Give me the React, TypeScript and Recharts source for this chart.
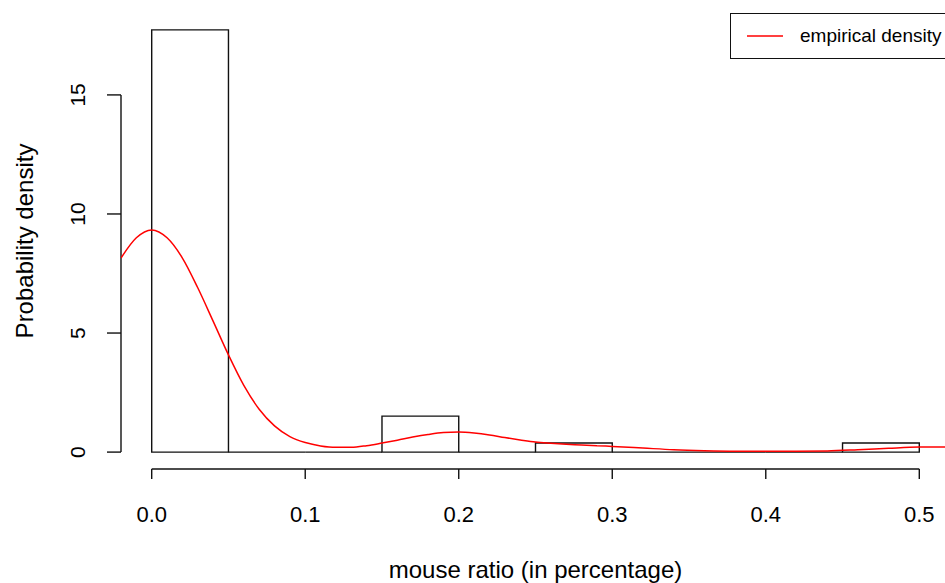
import {
	ComposedChart,
	Line,
	XAxis,
	YAxis,
	ReferenceArea,
	ReferenceLine,
	Legend,
	Label,
} from "recharts";

// histogram bins (width 0.05) and their density heights
const binStarts = [0, 0.05, 0.1, 0.15, 0.2, 0.25, 0.3, 0.35, 0.4, 0.45];
const binWidth = 0.05;
const binHeights = [17.73, 0, 0, 1.51, 0, 0.38, 0, 0, 0, 0.38];

// empirical density curve
const densityX = [
	-0.02, -0.01, 0, 0.01, 0.02, 0.03, 0.04, 0.05, 0.06, 0.07, 0.08, 0.09, 0.1,
	0.11, 0.12, 0.13, 0.14, 0.15, 0.16, 0.17, 0.18, 0.19, 0.2, 0.21, 0.22, 0.23,
	0.24, 0.25, 0.26, 0.27, 0.28, 0.29, 0.3, 0.32, 0.34, 0.36, 0.38, 0.4, 0.42,
	0.44, 0.46, 0.48, 0.5, 0.52,
];
const densityY = [
	8.15, 9.0, 9.33, 9.0, 8.15, 6.9, 5.5, 4.08, 2.8, 1.8, 1.1, 0.65, 0.4, 0.26,
	0.2, 0.2, 0.27, 0.38, 0.5, 0.63, 0.74, 0.82, 0.84, 0.8, 0.72, 0.61, 0.51,
	0.42, 0.37, 0.33, 0.3, 0.27, 0.24, 0.17, 0.1, 0.06, 0.04, 0.04, 0.04, 0.05,
	0.1, 0.16, 0.21, 0.22,
];

const xTicks = [0, 0.1, 0.2, 0.3, 0.4, 0.5];
const xTickLabels = ["0.0", "0.1", "0.2", "0.3", "0.4", "0.5"];
const yTicks = [0, 5, 10, 15];

const seriesName = "empirical density";
const xTitle = "mouse ratio (in percentage)";
const yTitle = "Probability density";

const FONT = '"Liberation Sans", Arial, Helvetica, sans-serif';
const INK = "#111";

const data = densityX.map((x, i) => ({ x, density: densityY[i] }));

function YTick(props: any) {
	const { x, y, payload } = props;
	return (
		<text
			x={x}
			y={y}
			transform={`rotate(-90, ${x}, ${y})`}
			textAnchor="middle"
			fontSize={21}
			fontFamily={FONT}
			fill="#000"
		>
			{payload.value}
		</text>
	);
}

function LegendBox() {
	return (
		<div
			style={{
				border: `1.3px solid ${INK}`,
				width: 230,
				height: 46,
				boxSizing: "border-box",
				display: "flex",
				alignItems: "center",
				background: "#fff",
				fontFamily: FONT,
				fontSize: 19,
				color: "#000",
			}}
		>
			<svg width={36} height={4} style={{ marginLeft: 16, marginRight: 17 }}>
				<line x1={0} y1={2} x2={36} y2={2} stroke="#ff0000" strokeWidth={1.5} />
			</svg>
			<span>{seriesName}</span>
		</div>
	);
}

export default function App() {
	return (
		<div style={{ width: 945, height: 583, overflow: "hidden", background: "#fff" }}>
			<style>{`body{margin:0}`}</style>
			<ComposedChart
				width={960}
				height={583}
				data={data}
				margin={{ top: 13, right: 10, bottom: 0, left: 0 }}
			>
				<XAxis
					type="number"
					dataKey="x"
					domain={[-0.02, 0.52]}
					allowDataOverflow
					ticks={xTicks}
					tickFormatter={(v: number) => xTickLabels[xTicks.indexOf(v)] ?? String(v)}
					axisLine={false}
					tickSize={10}
					tickMargin={27}
					height={114}
					tickLine={{ stroke: INK, strokeWidth: 1.4 }}
					tick={{ fontSize: 22, fill: "#000", fontFamily: FONT }}
					interval={0}
				>
					<Label
						content={(p: any) => {
							const vb = p.viewBox;
							return (
								<text
									x={vb.x + vb.width / 2}
									y={vb.y + vb.height - 5}
									textAnchor="middle"
									fontSize={24}
									fontFamily={FONT}
									fill="#000"
								>
									{xTitle}
								</text>
							);
						}}
					/>
				</XAxis>
				<YAxis
					type="number"
					domain={[-0.71, 18.44]}
					allowDataOverflow
					ticks={yTicks}
					width={121}
					axisLine={false}
					tickSize={14}
					tickMargin={22}
					tickLine={{ stroke: INK, strokeWidth: 1.4 }}
					tick={<YTick />}
					interval={0}
				>
					<Label
						content={(p: any) => {
							const vb = p.viewBox;
							const cx = vb.x + 33;
							const cy = vb.y + vb.height / 2;
							return (
								<text
									x={cx}
									y={cy}
									transform={`rotate(-90, ${cx}, ${cy})`}
									textAnchor="middle"
									fontSize={24}
									fontFamily={FONT}
									fill="#000"
								>
									{yTitle}
								</text>
							);
						}}
					/>
				</YAxis>

				{/* axis spines, R style: only between first and last tick */}
				<ReferenceLine
					segment={[
						{ x: xTicks[0], y: -0.71 },
						{ x: xTicks[xTicks.length - 1], y: -0.71 },
					]}
					stroke={INK}
					strokeWidth={1.4}
					ifOverflow="visible"
				/>
				<ReferenceLine
					segment={[
						{ x: -0.02, y: yTicks[0] },
						{ x: -0.02, y: yTicks[yTicks.length - 1] },
					]}
					stroke={INK}
					strokeWidth={1.4}
					ifOverflow="visible"
				/>

				{binStarts.map((s, i) =>
					binHeights[i] > 0 ? (
						<ReferenceArea
							key={"bin" + i}
							x1={s}
							x2={s + binWidth}
							y1={0}
							y2={binHeights[i]}
							fill="none"
							fillOpacity={0}
							stroke={INK}
							strokeWidth={1.4}
							strokeOpacity={1}
							ifOverflow="visible"
						/>
					) : (
						<ReferenceLine
							key={"bin" + i}
							segment={[
								{ x: s, y: 0 },
								{ x: s + binWidth, y: 0 },
							]}
							stroke={INK}
							strokeWidth={1.4}
							ifOverflow="visible"
						/>
					)
				)}

				<Line
					type="monotone"
					dataKey="density"
					name={seriesName}
					stroke="#ff0000"
					strokeWidth={1.5}
					dot={false}
					activeDot={false}
					isAnimationActive={false}
				/>

				<Legend
					layout="vertical"
					align="center"
					verticalAlign="middle"
					wrapperStyle={{ top: 13, left: 730, width: 230 }}
					content={() => <LegendBox />}
				/>
			</ComposedChart>
		</div>
	);
}
